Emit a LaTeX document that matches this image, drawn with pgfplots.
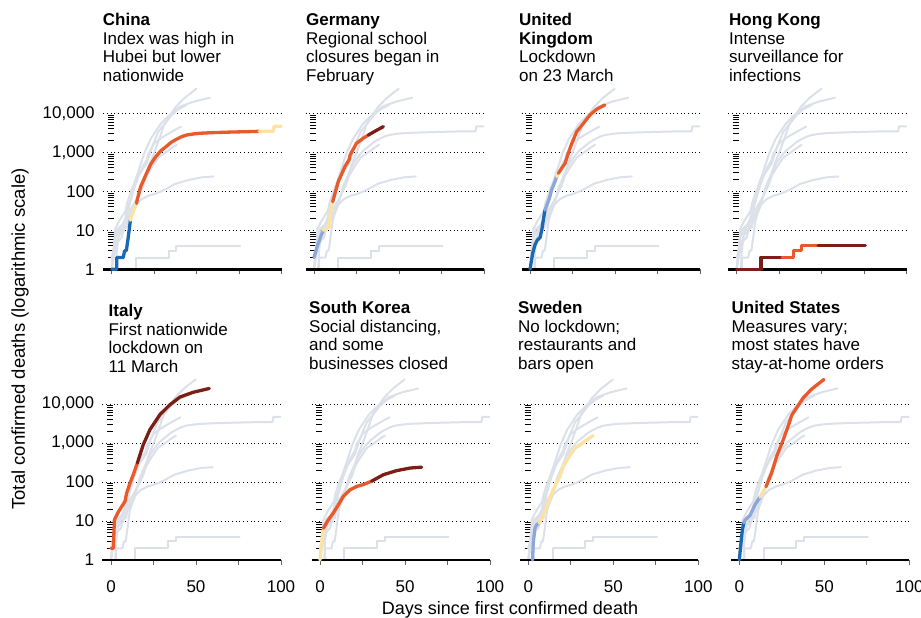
\documentclass[border=0pt]{standalone}
\usepackage{fontspec}
\setmainfont{Liberation Sans}
\usepackage{pgfplots}
\usepackage{pgfplotstable}
\pgfplotsset{compat=1.18}

\definecolor{gl}{RGB}{219,224,233}
\definecolor{cdb}{RGB}{26,106,179}
\definecolor{clb}{RGB}{142,167,218}
\definecolor{cye}{RGB}{253,227,163}
\definecolor{cor}{RGB}{232,89,43}
\definecolor{cdr}{RGB}{123,30,22}

\pgfplotstableread{
x y
0 1
3 1
3 2
6.8 2
7.6 3
8.6 3
9.6 6
10.5 12
11 18
12 25
14.6 49
15 60
17 130
20.5 290
23 500
26 780
29 1100
32 1400
35 1800
38 2150
41 2500
44 2770
48 2950
52 3080
60 3200
70 3300
80 3380
86.7 3450
95 3450
95.5 4650
99.6 4650
}\china

\pgfplotstableread{
x y
0 2
2 4
4 7
5.5 10
7 11
9 12
9.6 30
11 54
14.3 178
18.2 430
20.6 640
21.2 850
25 1700
29 2300
32 2770
36 3500
40.8 4550
}\germany

\pgfplotstableread{
x y
0 1
1.6 2.6
2.9 4.2
4.3 5.6
5.9 6.5
6.9 10
7.8 18
8.8 33
11.4 66
12.7 108
14.7 178
15.7 238
16.7 290
20.6 520
23.5 1260
25 1870
27.5 3400
31.4 5500
35.3 9100
39.2 12700
44 16300
}\uk

\pgfplotstableread{
x y
0 1
14.3 1
14.3 2
26.6 2
33.6 2
33.6 3
38.1 3
38.1 4
47.9 4
75.6 4
}\hk

\pgfplotstableread{
x y
0 2
1.4 2
2 10.7
4.3 17
6.3 23.5
8.2 31.6
9.2 52
11.2 94
13.1 154
15.5 307
19 910
22.9 2200
28.8 5350
34.7 9600
40.6 15100
48.4 20000
57.8 25000
}\italy

\pgfplotstableread{
x y
0 1
1 3
2 6.5
4.9 10.7
7.8 16
10.8 26
13.7 42.6
17.6 63
21.6 77
25.5 86
30.4 105
37.3 154
45 195
53 228
59.8 240
}\skorea

\pgfplotstableread{
x y
2.5 1
2.9 2.7
3.9 6.5
4.9 8
6.5 8.8
8.8 14
10.8 23.5
12.7 38.6
14.7 63
16.7 97
18.6 138
20.6 250
23.5 410
27.5 740
31.4 960
35.3 1290
38.2 1550
}\sweden

\pgfplotstableread{
x y
0 1
0.8 2.3
1.8 6
2.7 9
3.3 10.5
6.3 14
9.2 26
12.2 41
15.7 76
19 170
22 460
25.9 1230
29.4 3300
30.8 5100
33.7 8000
37.6 14400
42.5 24000
46.5 33000
49.8 42600
}\us

\pgfplotstableread{
x y
-5 1
100 1
}\baseline

\pgfplotsset{
  mypanel/.style={
    scale only axis, width=178.5pt, height=183.3pt,
    anchor=south west,
    xmin=-5, xmax=100, ymin=1, ymax=50119,
    axis x line=bottom, axis y line=left,
    x axis line style={draw=none},
    y axis line style={draw=none},
    tick align=outside,
    xtick={0,25,50,75,100}, xticklabels={},
    ytick={1,10,100,1000,10000}, yticklabels={},
    minor ytick={2,3,4,5,6,7,8,9,20,30,40,50,60,70,80,90,200,300,400,500,600,700,800,900,2000,3000,4000,5000,6000,7000,8000,9000},
    major tick length=5pt, minor tick length=6pt,
    major x tick style={draw=black!60, line width=0.9pt},
    major y tick style={draw=none},
    minor y tick style={draw=black, line width=0.7pt, xshift=10.7pt},
    ymajorgrids,
    major grid style={draw=black, line width=0.9pt, dash pattern=on 0.9pt off 2.8pt},
    clip=false,
    ticklabel style={font=\fontsize{17}{17}\selectfont},
  },
  mygr/.style={draw=gl, line width=2pt, no markers, line join=round, line cap=round},
  myhl/.style={line width=3.3pt, no markers, draw=#1, line join=round, line cap=round},
  myleft/.style={yticklabels={1,10,100,{1,000},{10,000}}},
  mybot/.style={xticklabels={0,,50,,100}, xticklabel style={yshift=-12pt}},
}

\newcommand{\greys}{%
  \addplot[mygr] table {\china};
  \addplot[mygr] table {\germany};
  \addplot[mygr] table {\uk};
  \addplot[mygr] table {\hk};
  \addplot[mygr] table {\italy};
  \addplot[mygr] table {\skorea};
  \addplot[mygr] table {\sweden};
  \addplot[mygr] table {\us};
  \addplot[black, line width=2.5pt, no markers] table {\baseline};
}

\newcommand{\Tline}[3]{\node[anchor=base west, inner sep=0pt, font=\fontsize{17}{17}\selectfont] at (#1pt,#2pt) {#3};}
\newcommand{\Bline}[3]{\node[anchor=base west, inner sep=0pt, font=\bfseries\fontsize{17}{17}\selectfont] at (#1pt,#2pt) {#3};}

\begin{document}
\begin{tikzpicture}
\path[use as bounding box] (0pt,0pt) rectangle (921pt,618pt);

% ---------- top row ----------
\begin{semilogyaxis}[mypanel, myleft, at={(103.2pt,348.7pt)}]
\greys
\addplot[myhl=cdb, restrict x to domain=-0.01:11.01] table {\china};
\addplot[myhl=cye, restrict x to domain=10.99:14.61] table {\china};
\addplot[myhl=cor, restrict x to domain=14.59:86.71] table {\china};
\addplot[myhl=cye, restrict x to domain=86.69:100] table {\china};
\end{semilogyaxis}

\begin{semilogyaxis}[mypanel, at={(305.5pt,348.7pt)}]
\greys
\addplot[myhl=clb, restrict x to domain=-0.01:5.51] table {\germany};
\addplot[myhl=cye, restrict x to domain=5.49:11.01] table {\germany};
\addplot[myhl=cor, restrict x to domain=10.99:32.01] table {\germany};
\addplot[myhl=cdr, restrict x to domain=31.99:41] table {\germany};
\end{semilogyaxis}

\begin{semilogyaxis}[mypanel, at={(521.5pt,348.7pt)}]
\greys
\addplot[myhl=cdb, restrict x to domain=-0.01:8.81] table {\uk};
\addplot[myhl=clb, restrict x to domain=8.79:15.71] table {\uk};
\addplot[myhl=cye, restrict x to domain=15.69:16.71] table {\uk};
\addplot[myhl=cor, restrict x to domain=16.69:45] table {\uk};
\end{semilogyaxis}

\begin{semilogyaxis}[mypanel, at={(728.2pt,348.7pt)}]
\greys
\addplot[myhl=cdr, restrict x to domain=-0.01:26.61] table {\hk};
\addplot[myhl=cor, restrict x to domain=26.59:47.91] table {\hk};
\addplot[myhl=cdr, restrict x to domain=47.89:80] table {\hk};
\end{semilogyaxis}

% ---------- bottom row ----------
\begin{semilogyaxis}[mypanel, myleft, mybot, at={(102.5pt,58pt)}]
\greys
\addplot[myhl=cor, restrict x to domain=-0.01:15.51] table {\italy};
\addplot[myhl=cdr, restrict x to domain=15.49:60] table {\italy};
\end{semilogyaxis}

\begin{semilogyaxis}[mypanel, mybot, at={(311.5pt,58pt)}]
\greys
\addplot[myhl=cye, restrict x to domain=-0.01:2.01] table {\skorea};
\addplot[myhl=cor, restrict x to domain=1.99:30.41] table {\skorea};
\addplot[myhl=cdr, restrict x to domain=30.39:60] table {\skorea};
\end{semilogyaxis}

\begin{semilogyaxis}[mypanel, mybot, at={(519.8pt,58pt)}]
\greys
\addplot[myhl=clb, restrict x to domain=2:6.51] table {\sweden};
\addplot[myhl=cye, restrict x to domain=6.49:40] table {\sweden};
\end{semilogyaxis}

\begin{semilogyaxis}[mypanel, mybot, at={(730.8pt,58pt)}]
\greys
\addplot[myhl=cdb, restrict x to domain=-0.01:2.71] table {\us};
\addplot[myhl=clb, restrict x to domain=2.69:12.21] table {\us};
\addplot[myhl=cye, restrict x to domain=12.19:15.71] table {\us};
\addplot[myhl=cor, restrict x to domain=15.69:50] table {\us};
\end{semilogyaxis}

% ---------- titles ----------
\Bline{102.7}{592}{China}
\Tline{102.7}{573.5}{Index was high in}
\Tline{102.7}{555}{Hubei but lower}
\Tline{102.7}{536.5}{nationwide}

\Bline{306}{592}{Germany}
\Tline{306}{573.5}{Regional school}
\Tline{306}{555}{closures began in}
\Tline{306}{536.5}{February}

\Bline{519}{592}{United}
\Bline{519}{573.5}{Kingdom}
\Tline{519}{555}{Lockdown}
\Tline{519}{536.5}{on 23 March}

\Bline{729}{592}{Hong Kong}
\Tline{729}{573.5}{Intense}
\Tline{729}{555}{surveillance for}
\Tline{729}{536.5}{infections}

\Bline{108.5}{301}{Italy}
\Tline{108.5}{282.5}{First nationwide}
\Tline{108.5}{264}{lockdown on}
\Tline{108.5}{245.5}{11 March}

\Bline{309}{304}{South Korea}
\Tline{309}{285.5}{Social distancing,}
\Tline{309}{267}{and some}
\Tline{309}{248.5}{businesses closed}

\Bline{518}{304}{Sweden}
\Tline{518}{285.5}{No lockdown;}
\Tline{518}{267}{restaurants and}
\Tline{518}{248.5}{bars open}

\Bline{731.5}{304}{United States}
\Tline{731.5}{285.5}{Measures vary;}
\Tline{731.5}{267}{most states have}
\Tline{731.5}{248.5}{stay-at-home orders}

% ---------- axis labels ----------
\node[anchor=base, inner sep=0pt, font=\fontsize{18}{18}\selectfont] at (510pt,3pt) {Days since first confirmed death};
\node[rotate=90, anchor=center, inner sep=0pt, font=\fontsize{18.5}{18.5}\selectfont] at (20pt,279pt) {Total confirmed deaths (logarithmic scale)};
\end{tikzpicture}
\end{document}
